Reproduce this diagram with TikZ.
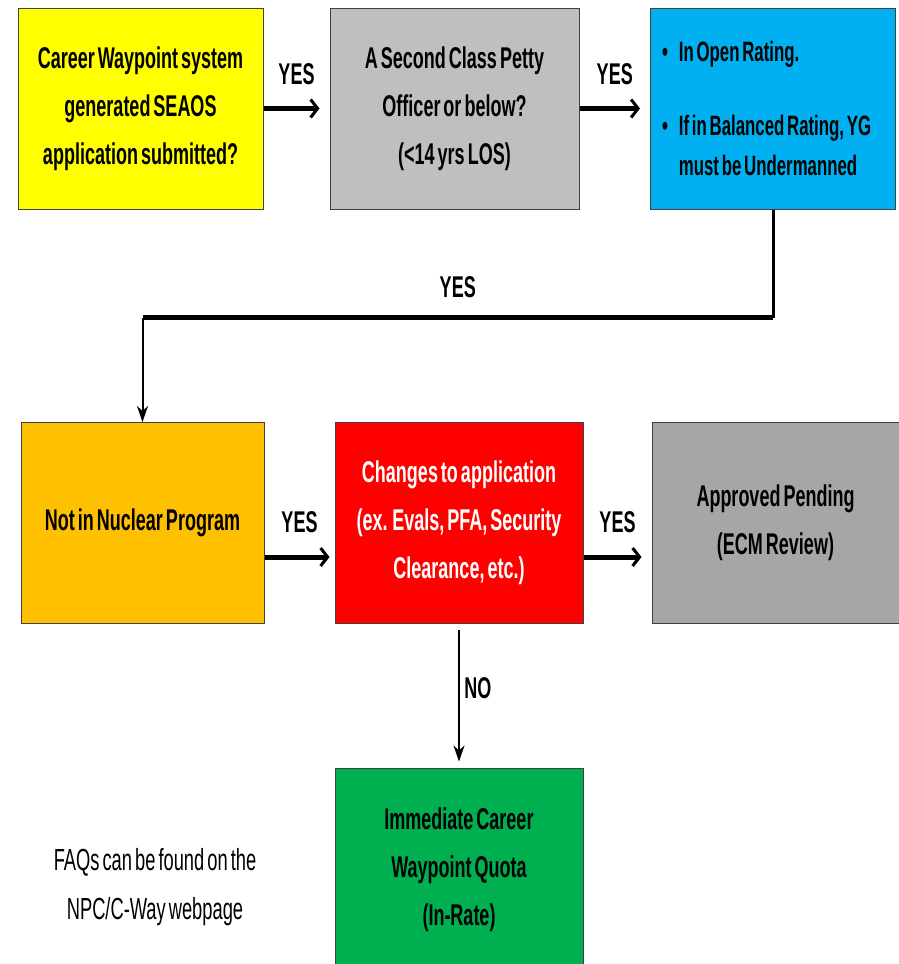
\documentclass[tikz,border=0pt]{standalone}
\usepackage{fontspec}
\setmainfont{Liberation Sans}[FakeStretch=0.6, WordSpace=0.6]
\newfontfamily\boxfont{Liberation Sans Bold}[FakeStretch=0.6, WordSpace=0.6]
\usetikzlibrary{arrows.meta}

\definecolor{boxyellow}{HTML}{FFFF00}
\definecolor{boxsilver}{HTML}{BFBFBF}
\definecolor{boxblue}{HTML}{00B0F0}
\definecolor{boxorange}{HTML}{FFC000}
\definecolor{boxred}{HTML}{FF0000}
\definecolor{boxgray}{HTML}{A6A6A6}
\definecolor{boxgreen}{HTML}{00B050}

\begin{document}
\begin{tikzpicture}[x=1pt, y=-1pt,
        box/.style={rectangle, draw=black!75, line width=1pt, minimum height=201pt,
            text width=232pt, align=flush center, inner sep=0pt,
            font=\boxfont\fontsize{30}{48}\selectfont},
        yes/.style={font=\boxfont\fontsize{30}{36}\selectfont},
        bigarrow/.style={line width=5pt, -{Straight Barb[length=7pt, width=18pt, line width=3pt]}},
        thinarrow/.style={line width=2pt, -{Stealth[length=16pt, width=11pt, inset=5pt]}}]
        \useasboundingbox (0, 0) rectangle (899, 964);

        % first row
        \node[box, fill=boxyellow, minimum width=245pt] at (140.5, 108.5) (submitted)
            {Career Waypoint system\\generated SEAOS\\application submitted?};
        \node[box, fill=boxsilver, minimum width=249pt] at (454.5, 108.5) (petty)
            {A Second Class Petty\\Officer or below?\\(<14 yrs LOS)};
        \node[box, fill=boxblue, minimum width=245pt, text width=222pt, align=flush left,
            font=\boxfont\fontsize{28}{40}\selectfont] at (773, 108.5) (rating)
            {\textbullet\hspace{11pt}In Open Rating.\\[34pt]
             \textbullet\hspace{11pt}If in Balanced Rating, YG\\
             \hphantom{\textbullet\hspace{11pt}}must be Undermanned};

        % second row
        \node[box, fill=boxorange, minimum width=243pt] at (142.5, 523) (nuclear)
            {Not in Nuclear Program};
        \node[box, fill=boxred, minimum width=248pt, text=white] at (459, 523) (changes)
            {Changes to application\\(ex. Evals, PFA, Security\\Clearance, etc.)};
        \node[box, fill=boxgray, minimum width=247pt] at (775.5, 523) (pending)
            {Approved Pending\\(ECM Review)};

        % third row
        \node[box, fill=boxgreen, minimum width=248pt, minimum height=204pt] at (459, 870) (quota)
            {Immediate Career\\Waypoint Quota\\(In-Rate)};
        \node[align=center, font=\fontsize{30.5}{49}\selectfont] at (155, 887) (faq)
            {FAQs can be found on the\\NPC/C-Way webpage};

        % connectors
        \draw[bigarrow, shorten >=10pt] (submitted) -- (petty)
            node[yes, midway, above=18pt] {YES};
        \draw[bigarrow, shorten >=10pt] (petty) -- (rating)
            node[yes, midway, above=18pt] {YES};
        \draw[line width=3pt] (rating.south) -- ++(0, 108) coordinate (turn);
        \coordinate (drop) at (nuclear.north |- turn);
        \draw[line width=4.5pt] (turn) -- (drop)
            node[yes, midway, above=14pt] {YES};
        \draw[thinarrow] (drop) -- (nuclear.north);
        \draw[bigarrow, shorten >=5pt] (nuclear.east |- 0,557) -- (changes.west |- 0,557)
            node[yes, midway, above=18pt] {YES};
        \draw[bigarrow, shorten >=10pt] (changes.east |- 0,557) -- (pending.west |- 0,557)
            node[yes, midway, above=18pt] {YES};
        \draw[thinarrow, shorten <=6pt, shorten >=6pt] (changes.south) -- (quota.north)
            node[yes, midway, right=1pt, yshift=8pt] {NO};
\end{tikzpicture}
\end{document}
